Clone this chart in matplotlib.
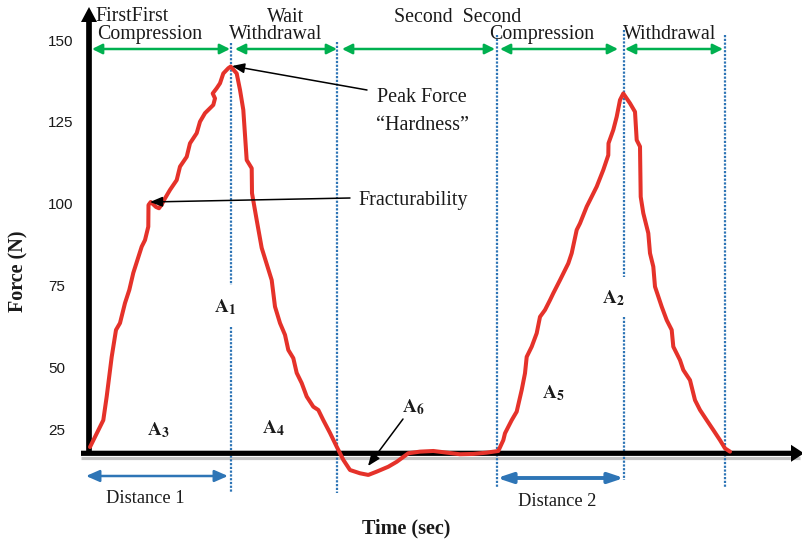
import matplotlib
matplotlib.use("Agg")
import matplotlib.pyplot as plt
from matplotlib.transforms import ScaledTranslation

# ---------------- data ----------------
time_s = [0.0, 1.33, 1.67, 2.17, 2.6, 3.0, 3.5, 3.93, 4.33, 5.17, 5.5, 5.83, 5.85, 6.07, 6.6, 6.9, 7.2, 7.4,
          8.0, 8.67, 9.0, 9.67, 10.0, 10.67, 11.0, 11.5, 12.33, 12.5, 12.27, 12.67, 13.0, 13.33, 13.83, 14.07,
          14.67, 15.0, 15.33, 15.67, 16.17, 16.2, 16.67, 17.17, 18.17, 18.5, 19.0, 19.5, 19.83, 20.33, 20.67,
          21.17, 21.67, 22.33, 22.83, 23.33, 24.0, 24.67, 25.33, 26.0, 27.0, 27.83, 28.67, 29.83, 30.67, 31.83,
          33.0, 34.33, 35.67, 37.0, 38.33, 39.67, 40.83,
          41.33, 41.5, 42.17, 42.67, 43.17, 43.5, 43.67, 44.17, 44.67, 45.0, 45.5, 46.0, 46.33, 47.0, 47.83,
          48.17, 48.67, 49.0, 49.67, 50.0, 50.67, 51.33, 51.83, 51.85, 52.33, 52.67, 53.0, 53.33,
          54.0, 54.5, 54.67, 55.0, 55.07, 55.33, 55.83, 56.0, 56.33, 56.5, 57.17, 57.67, 58.17, 58.33, 59.0,
          59.33, 60.0, 60.5, 61.0, 61.67, 62.33, 63.0, 63.5, 64.0]
force_n = [25.9, 34.1, 41.3, 53.4, 61.6, 63.7, 69.8, 73.8, 79.0, 87.0, 89.0, 93.1, 99.7, 100.6, 99.1, 98.7,
           100.0, 101.2, 104.3, 107.3, 111.4, 114.4, 118.5, 121.6, 125.1, 127.7, 130.2, 132.2, 133.7, 135.3,
           136.8, 139.8, 141.4, 141.9,
           139.8, 134.8, 128.7, 113.4, 110.9, 103.3, 95.1, 86.6, 76.8, 68.7, 63.7, 60.1, 55.5, 53.0, 48.5,
           45.4, 41.3, 38.2, 37.2, 34.1, 30.2, 26.0, 22.0, 18.9, 17.9, 17.4, 18.4, 19.9, 21.4, 24.0, 24.5,
           24.7, 24.2, 23.7, 23.8, 24.2, 24.7,
           28.0, 30.1, 34.1, 36.7, 43.3, 48.4, 53.4, 56.5, 60.6, 65.6, 67.7, 70.7, 72.8, 76.8, 81.9, 85.0,
           92.1, 94.1, 99.2, 101.2, 105.3, 110.4, 114.9, 118.5, 122.6, 126.6, 131.7, 133.7,
           130.7, 128.1, 119.5, 117.5, 102.2, 97.2, 91.1, 85.0, 80.9, 74.8, 68.7, 64.6, 61.6, 56.5, 52.4,
           49.4, 46.3, 40.2, 37.2, 34.1, 31.1, 28.0, 25.5, 24.5]
phase_bounds = [14.1, 24.7, 40.7, 53.4, 63.5]
y_ticks = [25, 50, 75, 100, 125, 150]
y_tick_labels = ["25", "50", "75", "100", "125", "150"]
area_labels = ["A_1", "A_2", "A_3", "A_4", "A_5", "A_6"]

# ---------------- layout helpers (pixel -> data) ----------------
W, H = 803, 543
def X(px):
    return (px - 90) / 10.0
def Y(py):
    return 150 - (py - 40) / 3.28

plt.rcParams["mathtext.fontset"] = "stix"
SERIF = "Liberation Serif"
TXT = "#1a1a1a"
GREEN = "#00B050"
BLUE = "#2E75B6"
RED = "#E5322A"

fig = plt.figure(figsize=(W / 100, H / 100), dpi=100)
ax = fig.add_axes([90 / W, 0, (W - 90) / W, 1])
ax.set_xlim(X(90), X(W))
ax.set_ylim(Y(H), Y(0))
for s in ax.spines.values():
    s.set_visible(False)
ax.set_xticks([])
ax.set_yticks(y_ticks)
ax.set_yticklabels(y_tick_labels, fontfamily="Liberation Sans", fontsize=11, color=TXT)
ax.tick_params(axis="y", length=0, pad=30.2)
labs = ax.get_yticklabels()
for lab in labs:
    lab.set_horizontalalignment("left")
labs[0].set_transform(labs[0].get_transform() + ScaledTranslation(0, 20 / 100, fig.dpi_scale_trans))

# ---------------- axes arrows ----------------
ax.plot([X(81), X(800)], [Y(457.8), Y(457.8)], color="#C4C4C4", lw=2.3, clip_on=False, zorder=2,
        solid_capstyle="butt")
ax.arrow(X(81), Y(453.3), X(804) - X(81), 0, width=5.2 / 3.28, head_width=17 / 3.28, head_length=1.3,
         length_includes_head=True, color="black", clip_on=False, zorder=3, lw=0)
ax.arrow(X(89), Y(453), 0, Y(7) - Y(453), width=0.57, head_width=1.6, head_length=15 / 3.28,
         length_includes_head=True, color="black", clip_on=False, zorder=3, lw=0)

# ---------------- dotted phase lines ----------------
segs = {
    0: [(43, 285), (327, 493)],
    1: [(42, 493)],
    2: [(35, 488)],
    3: [(30, 277), (317, 480)],
    4: [(35, 487)],
}
for i, t in enumerate(phase_bounds):
    for a, b in segs[i]:
        ax.plot([t, t], [Y(a), Y(b)], color=BLUE, lw=1.6, linestyle=(0, (1.0, 0.7)),
                clip_on=False, zorder=2)

# ---------------- curve ----------------
ax.plot(time_s, force_n, color=RED, lw=2.9, clip_on=False, zorder=5, solid_joinstyle="round",
        solid_capstyle="round")

# ---------------- green phase arrows ----------------
green_spans = [(92, 230), (235, 337), (342, 495), (500, 618), (625, 723)]
for a, b in green_spans:
    ax.annotate("", xy=(X(b), Y(49)), xytext=(X(a), Y(49)), annotation_clip=False,
                arrowprops=dict(arrowstyle="<|-|>,head_length=0.6,head_width=0.3", color=GREEN,
                                lw=1.8, shrinkA=0, shrinkB=0))

# ---------------- top labels ----------------
def txt(px, py, s, ha="left", size=14.3, weight="normal", **kw):
    ax.text(X(px), Y(py), s, ha=ha, va="baseline", fontsize=size, fontfamily=SERIF,
            fontweight=weight, color=TXT, clip_on=False, **kw)

txt(95, 21, "FirstFirst")
txt(97, 39, "Compression")
txt(286, 21.5, "Wait", ha="center")
txt(276, 39, "Withdrawal", ha="center")
txt(458, 21.5, "Second  Second", ha="center")
txt(542, 39, "Compression", ha="center")
txt(670, 39, "Withdrawal", ha="center")

# ---------------- annotations ----------------
txt(377, 102, "Peak Force", size=14.5)
txt(376, 130, "\u201cHardness\u201d", size=14.5)
txt(358, 205, "Fracturability", size=14.5)
black_arrows = [((367, 90), (232, 66)), ((350, 198), (150, 202)), ((403, 419), (368, 466))]
for (x0, y0), (x1, y1) in black_arrows:
    ax.annotate("", xy=(X(x1), Y(y1)), xytext=(X(x0), Y(y0)), annotation_clip=False,
                arrowprops=dict(arrowstyle="-|>,head_length=0.75,head_width=0.3", color="black",
                                lw=1.1, shrinkA=0, shrinkB=0), zorder=6)

# area labels
area_pos = [(214, 312), (602, 303), (147, 435), (262, 433), (542, 398), (402, 412)]
for lbl, (px, py) in zip(area_labels, area_pos):
    a, n = lbl.split("_")
    ax.text(X(px), Y(py), r"$\mathbf{%s}_{\mathbf{%s}}$" % (a, n), ha="left", va="baseline",
            fontsize=14, color=TXT, clip_on=False, zorder=7)

# distance arrows
ax.annotate("", xy=(X(228), Y(476)), xytext=(X(86), Y(476)), annotation_clip=False,
            arrowprops=dict(arrowstyle="<|-|>,head_length=0.8,head_width=0.35", color=BLUE,
                            lw=1.8, shrinkA=0, shrinkB=0))
ax.annotate("", xy=(X(624), Y(478)), xytext=(X(497), Y(478)), annotation_clip=False,
            arrowprops=dict(arrowstyle="<|-|>,head_length=0.9,head_width=0.3", color=BLUE,
                            lw=2.8, shrinkA=0, shrinkB=0))
txt(106, 503, "Distance 1", size=13.2)
txt(518, 506, "Distance 2", size=13.2)

# axis titles
txt(362, 533, "Time (sec)", size=14.5, weight="bold")
fig.text(18 / W, 1 - 271 / H, "Force (N)", rotation=90, ha="center", va="center", fontsize=14.5,
         fontfamily=SERIF, fontweight="bold", color=TXT)

fig.savefig("out.png", dpi=100)
